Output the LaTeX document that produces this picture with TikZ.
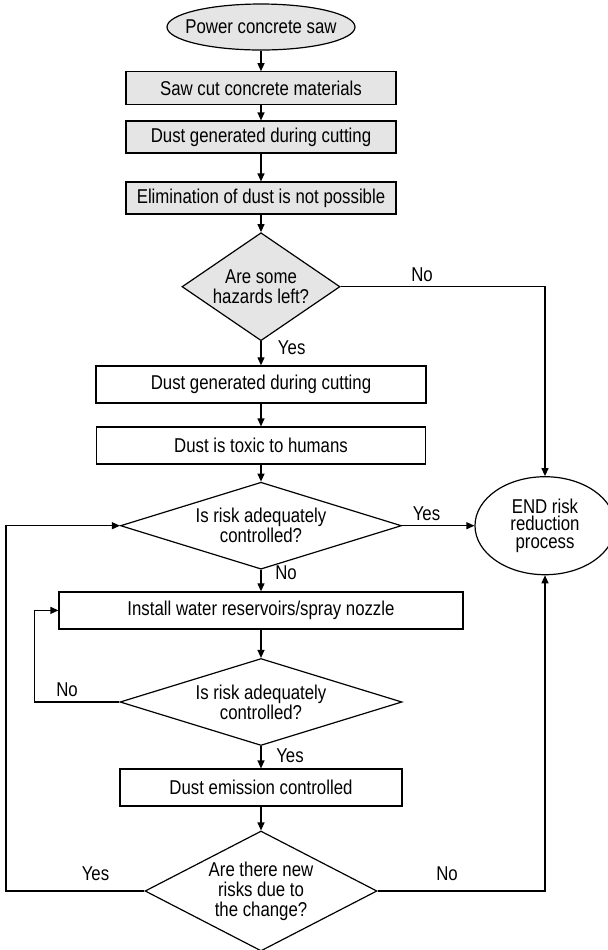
\documentclass[tikz,border=0pt]{standalone}
\usepackage{fontspec}
\setmainfont{Liberation Sans}[FakeStretch=0.84]
\usetikzlibrary{shapes.geometric,arrows.meta}

\begin{document}
\begin{tikzpicture}[x=0.5pt,y=-0.5pt,
  font=\fontsize{10}{10}\selectfont,
  box/.style={draw,line width=0.6pt,inner sep=0pt,align=center},
  grey/.style={fill=gray!20},
  rbox/.style={box,rectangle,minimum height=18.5pt},
  dbox/.style={box,diamond,shape aspect=2.5},
  ebox/.style={box,ellipse},
  arr/.style={-{Triangle[length=4pt,width=3.5pt]},line width=0.6pt},
  lbl/.style={inner sep=0pt}]

  \useasboundingbox (0,0) rectangle (607,950);

  % top part, grey
  \node (start) at (261,27) [ebox,grey,inner xsep=-5pt,minimum width=94pt,minimum height=23pt] {Power concrete saw};
  \node (b1) at (261,88.3) [rbox,grey,minimum width=135pt,minimum height=16.5pt] {Saw cut concrete materials};
  \node (b2) at (261,137) [rbox,grey,minimum width=135pt,minimum height=16pt] {Dust generated during cutting};
  \node (b3) at (261,198) [rbox,grey,minimum width=135pt,minimum height=16pt] {Elimination of dust is not possible};
  \node (d1) at (261,286.7) [dbox,grey,shape aspect=1.4,minimum width=79pt,minimum height=54pt] {Are some\\hazards left?};

  % main column
  \node (b4) at (261,384.4) [rbox,minimum width=165pt] {Dust generated during cutting};
  \node (b5) at (261,445.5) [rbox,minimum width=164.5pt] {Dust is toxic to humans};
  \node (d2) at (261,525.7) [dbox,minimum width=140.5pt,minimum height=37pt] {Is risk adequately\\controlled?};
  \node (b6) at (261,610.4) [rbox,minimum width=202pt] {Install water reservoirs/spray nozzle};
  \node (d3) at (261,702) [dbox,minimum width=141pt,minimum height=43pt] {Is risk adequately\\controlled?};
  \node (b7) at (261,787.5) [rbox,minimum width=141pt] {Dust emission controlled};
  \node (d4) at (261,891) [dbox,shape aspect=1.8,minimum width=116pt,minimum height=60pt] {Are there new\\risks due to\\the change?};

  \node (end) at (545,525.7) [ebox,minimum width=70pt,minimum height=49pt,
    font=\fontsize{10}{8.6}\selectfont] {END risk\\reduction\\process};

  \coordinate (lft) at (6,0);
  \coordinate (lft2) at (34.7,0);

  % connectors
  \draw[arr] (start) -- (b1);
  \draw[arr] (b1) -- (b2);
  \draw[arr] (b2) -- (b3);
  \draw[arr] (b3) -- (d1);
  \draw[arr] (d1) -- (b4);
  \draw[arr] (b4) -- (b5);
  \draw[arr] (b5) -- (d2);
  \draw[arr] (d2) -- (b6);
  \draw[arr] (b6) -- (d3);
  \draw[arr] (d3) -- (b7);
  \draw[arr] (b7) -- (d4);
  \draw[arr] (d2) -- (end);
  \draw[arr] (d1.east) -| (end.north);
  \draw[arr] (d4.east) -| (end.south);
  \draw[arr] (d4.west) -- (d4.west -| lft) |- (d2.west);
  \draw[arr] (d3.west) -- (d3.west -| lft2) |- (b6.west);

  % labels
  \node (l1) at (422,275) [lbl] {No};
  \node (l2) at (291.7,348) [lbl] {Yes};
  \node (l3) at (426.5,514) [lbl] {Yes};
  \node (l4) at (286,573) [lbl] {No};
  \node (l5) at (67,690) [lbl] {No};
  \node (l6) at (290,756) [lbl] {Yes};
  \node (l7) at (95.5,874) [lbl] {Yes};
  \node (l8) at (447,874) [lbl] {No};

\end{tikzpicture}
\end{document}
